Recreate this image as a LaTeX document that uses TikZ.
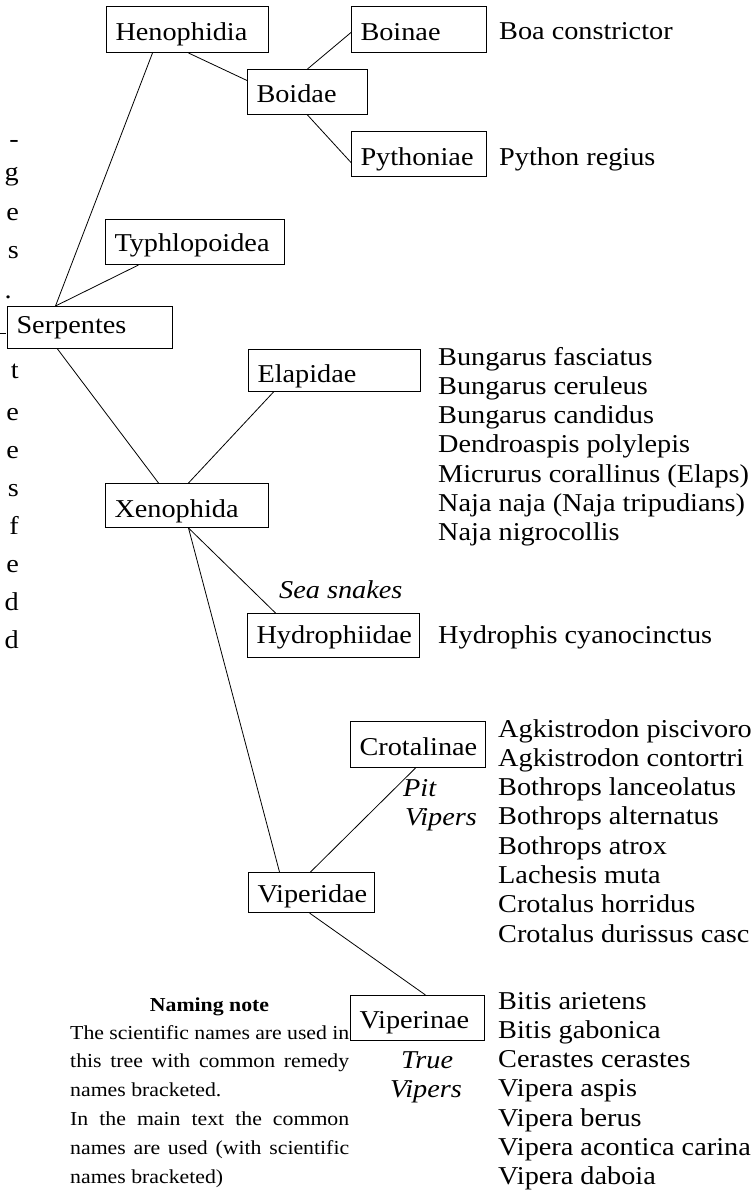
\documentclass[tikz,border=0pt]{standalone}
\usepackage{fontspec}
\setmainfont{Liberation Serif}[FakeStretch=1.1]
\newcommand\mainsz{\fontsize{25.7pt}{29.3pt}\selectfont}
\newcommand\notesz{\fontsize{19.8pt}{28.8pt}\selectfont}
\tikzset{
  tb/.style n args={3}{draw, line width=1pt, anchor=north west, inner xsep=9pt, inner ysep=0pt,
     text width=#1, text height=#2, text depth=#3, align=left, font=\mainsz},
  lst/.style={anchor=base west, inner sep=0pt, font=\mainsz},
  itl/.style={anchor=base west, inner sep=0pt, font=\mainsz\itshape},
  nt/.style={anchor=base west, inner sep=0pt, font=\notesz},
  frag/.style={anchor=base east, inner sep=0pt, font=\mainsz},
  edge/.style={line width=0.8pt},
}
\begin{document}
\begin{tikzpicture}[x=1pt,y=-1pt]
\useasboundingbox (0,0) rectangle (755,1196);
\clip (0,0) rectangle (755,1196);

% boxes
\node[tb={144pt}{34pt}{12pt}] (hen) at (106,6) {Henophidia};
\node[tb={102pt}{33pt}{12pt}] (boi) at (247,69) {Boidae};
\node[tb={117pt}{34pt}{12pt}] (boinae) at (351,6) {Boinae};
\node[tb={117pt}{34pt}{11pt}] (pyth) at (351,131) {Pythoniae};
\node[tb={161pt}{32pt}{13pt}] (typh) at (105,219) {Typhlopoidea};
\node[tb={147pt}{27pt}{15pt}] (serp) at (7,306) {Serpentes};
\node[tb={154pt}{33pt}{9pt}] (ela) at (248,349) {Elapidae};
\node[tb={145pt}{34pt}{10pt}] (xen) at (105,483) {Xenophida};
\node[tb={154pt}{30pt}{14pt}] (hyd) at (247,613) {Hydrophiidae};
\node[tb={117pt}{34pt}{12pt}] (cro) at (350,721) {Crotalinae};
\node[tb={108pt}{30pt}{10pt}] (vipd) at (248,872) {Viperidae};
\node[tb={116pt}{33pt}{12pt}] (vipn) at (350,995) {Viperinae};

% connectors
\draw[edge] ([xshift=-35pt]hen.south) -- ([xshift=-34.5pt]serp.north);
\draw[edge] ([xshift=-56.5pt]typh.south) -- ([xshift=-34.5pt]serp.north);
\draw[edge] ([xshift=1pt]hen.south) -- ([yshift=11.5pt]boi.west);
\draw[edge] (boi.north) -- ([yshift=-3pt]boinae.west);
\draw[edge] (boi.south) -- ([yshift=-8.5pt]pyth.west);
\draw[edge] ([xshift=-32.5pt]serp.south) -- ([xshift=-28.5pt]xen.north);
\draw[edge] ([xshift=-61pt]ela.south) -- ([xshift=1.5pt]xen.north);
\draw[edge] ([xshift=1.5pt]xen.south) -- ([xshift=-58pt]hyd.north);
\draw[edge] ([xshift=1.5pt]xen.south) -- ([xshift=-32pt]vipd.north);
\draw[edge] ([xshift=-2.5pt]cro.south) -- ([xshift=-1pt]vipd.north);
\draw[edge] ([xshift=-2pt]vipd.south) -- ([xshift=8pt]vipn.north);

% species
\node[lst] (boa) at (499,40) {Boa constrictor};
\node[lst] (pyr) at (499,165) {Python regius};
\foreach \t [count=\i from 0] in {Bungarus fasciatus, Bungarus ceruleus, Bungarus candidus,
  Dendroaspis polylepis, Micrurus corallinus (Elaps), Naja naja (Naja tripudians), Naja nigrocollis}
  \node[lst] (elaL\i) at (438,365+29.3*\i) {\t};
\node[lst] (hydL) at (438,643) {Hydrophis cyanocinctus};
\foreach \t [count=\i from 0] in {Agkistrodon piscivoro, Agkistrodon contortri, Bothrops lanceolatus,
  Bothrops alternatus, Bothrops atrox, Lachesis muta, Crotalus horridus, Crotalus durissus casc}
  \node[lst] (croL\i) at (498,737+29.3*\i) {\t};
\foreach \t [count=\i from 0] in {Bitis arietens, Bitis gabonica, Cerastes cerastes, Vipera aspis,
  Vipera berus, Vipera acontica carina, Vipera daboia}
  \node[lst] (vipL\i) at (498,1009+29.3*\i) {\t};

% italic labels
\node[itl] (sea) at (279,598) {Sea snakes};
\node[itl] (pit) at (403,796) {Pit};
\node[itl] (pitv) at (405,825) {Vipers};
\node[itl] (tru) at (401,1068) {True};
\node[itl] (truv) at (390,1097) {Vipers};

% naming note
\node[anchor=base, inner sep=0pt, font=\notesz\bfseries] (nn) at (209.5,1011) {Naming note};
\node[nt] (n1) at (70,1039) {\makebox[279pt][s]{The scientific names are used in}};
\node[nt] (n2) at (70,1067.8) {\makebox[279pt][s]{this tree with common remedy}};
\node[nt] (n3) at (70,1096.6) {names bracketed.};
\node[nt] (n4) at (70,1125.4) {\makebox[279pt][s]{In the main text the common}};
\node[nt] (n5) at (70,1154.2) {\makebox[279pt][s]{names are used (with scientific}};
\node[nt] (n6) at (70,1183) {names bracketed)};

% clipped fragments of page text at the left edge
\node[frag] (f1) at (19,147) {-};
\node[frag] (f2) at (19,180) {g};
\node[frag] (f3) at (19,220) {e};
\node[frag] (f4) at (19,258) {s};
\node[frag] (f5) at (12,298) {.};
\fill (0,332.5) rectangle (6,333.5);
\node[frag] (f6) at (19,378) {t};
\node[frag] (f7) at (19,420) {e};
\node[frag] (f8) at (19,458) {e};
\node[frag] (f9) at (19,496) {s};
\node[frag] (f10) at (19,534) {f};
\node[frag] (f11) at (19,572) {e};
\node[frag] (f12) at (19,610) {d};
\node[frag] (f13) at (19,648) {d};
\end{tikzpicture}
\end{document}
